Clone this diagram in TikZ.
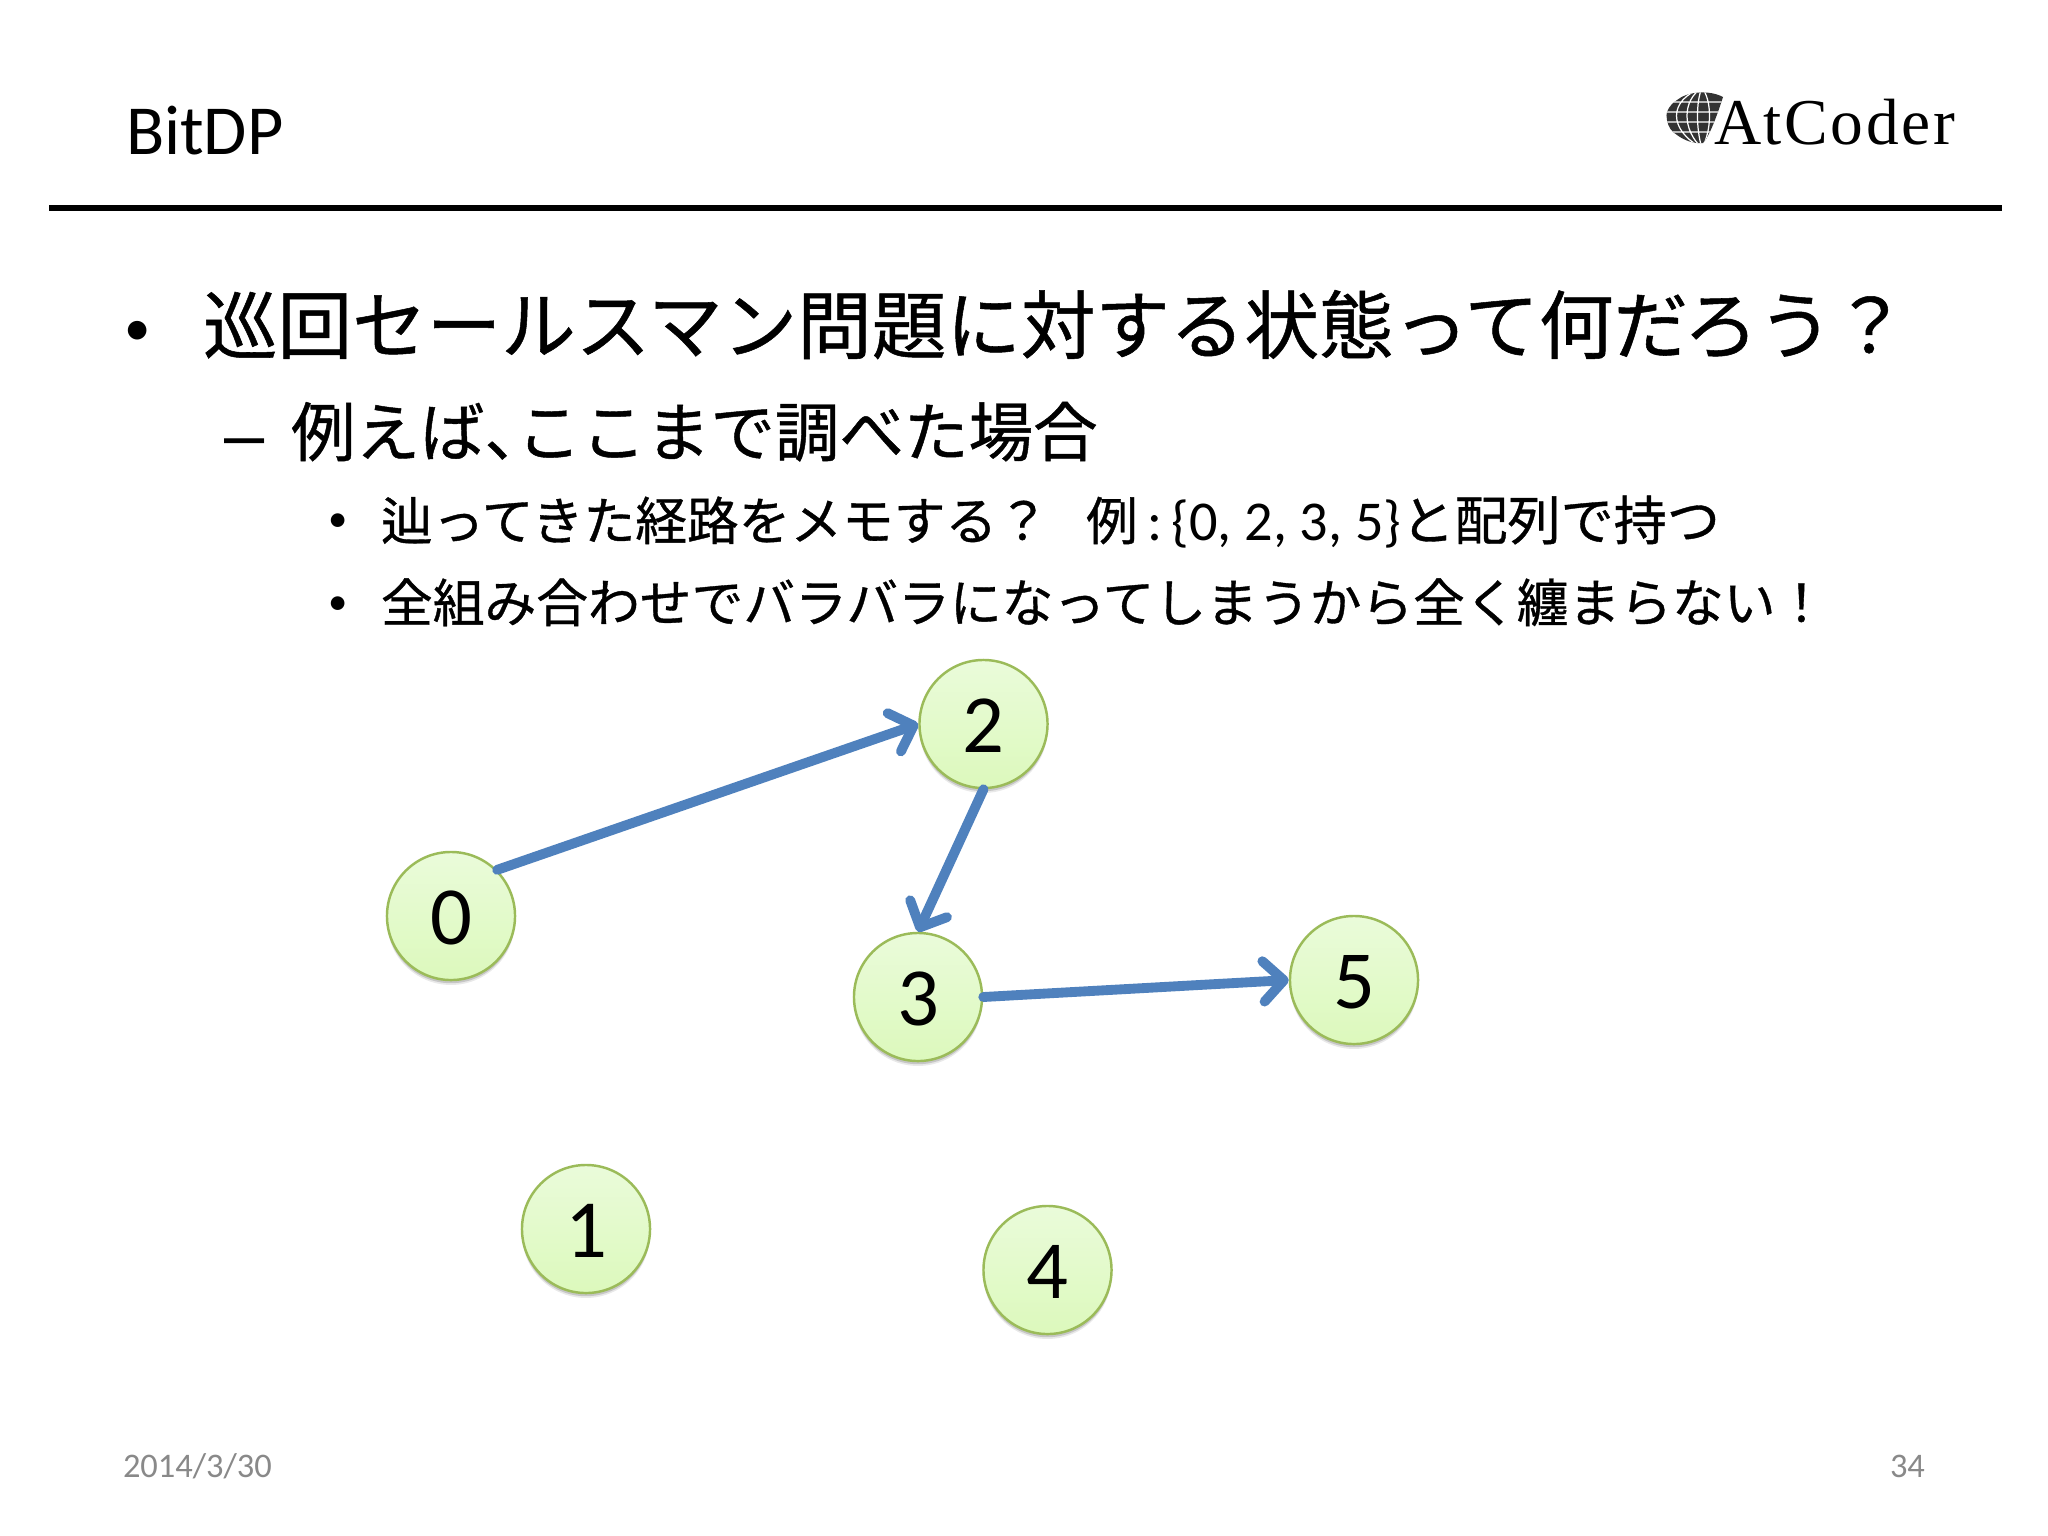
\documentclass[tikz,border=0pt]{standalone}
\usepackage{fontspec}
\setmainfont{Carlito}
\newfontfamily\cjk[FakeBold=0.7]{Noto Sans CJK JP}
\newfontfamily\logofont[LetterSpace=4]{Liberation Serif}
\newfontfamily\dashfont{Liberation Sans}
\usetikzlibrary{arrows.meta,shadows,fadings}
\newcommand{\fs}[1]{\fontsize{#1}{#1}\selectfont}
\newcommand{\dg}[1]{\raisebox{-.5pt}[\height][\depth]{#1}}
\definecolor{nodeline}{HTML}{9BBB59}
\definecolor{nodetop}{HTML}{EAFBDA}
\definecolor{nodebot}{HTML}{DCF9BC}
\definecolor{arrowblue}{HTML}{4F81BD}
\definecolor{footgray}{HTML}{898989}
\tikzset{
  txt/.style={anchor=base west,inner sep=0pt,outer sep=0pt,text=black},
  vertex/.style={circle,draw=nodeline,line width=.7pt,top color=nodetop,bottom color=nodebot,
    minimum size=128*0.2845pt,inner sep=0pt,font=\fs{23.5}\selectfont,
    general shadow={shadow yshift=-1.4pt,fill=black!70,opacity=.12,scale=1.03},
    general shadow={shadow yshift=-.9pt,fill=black!70,opacity=.22}},
  conn/.style={draw=arrowblue,line width=2.8pt,line cap=round,line join=round,
    -{Straight Barb[length=5.8pt,width=11.5pt,round]}},
}
\begin{document}
\begin{tikzpicture}[x=0.01cm,y=-0.01cm]
\useasboundingbox[fill=white] (0,0) rectangle (2048,1536);
% header
\node[txt] (title) at (126,154) {\fs{20}BitDP};
\coordinate (ruleL) at (49,208);
\coordinate (ruleR) at (2002,208);
\draw[line width=1.5pt] (ruleL) -- (ruleR);
% logo
\begin{scope}
\clip (1723,97) .. controls (1710,90) and (1688,91) .. (1677,100)
  .. controls (1668,106) and (1665,114) .. (1667,120)
  .. controls (1668,127) and (1672,132) .. (1677,135)
  .. controls (1685,141) and (1695,144) .. (1703,143)
  .. controls (1708,138) and (1715,122) .. (1723,97) -- cycle;
\fill[black!80] (1660,85) rectangle (1730,150);
\draw[white,line width=.35pt]
  (1702,88) .. controls (1668,100) and (1668,130) .. (1702,148)
  (1702,88) .. controls (1682,100) and (1682,130) .. (1702,148)
  (1702,88) .. controls (1696,100) and (1696,130) .. (1702,148)
  (1702,88) .. controls (1712,100) and (1712,130) .. (1702,148)
  (1660,102) -- (1730,102) (1660,112) -- (1730,112)
  (1660,122) -- (1730,122) (1660,132) -- (1730,132);
\end{scope}
\node[txt] (logo) at (1714,144) {\logofont\fs{18.6}AtCoder};
% bullets
\node[txt] (b1) at (124,345) {\fs{15}•};
\node[txt] (l1) at (203,353) {\cjk\fs{21.2}巡回セールスマン問題に対する状態って何だろう？};
\node[txt] (b2) at (224,459) {\dashfont\fs{20.5}–};
\node[txt] (l2) at (291,456) {\cjk\fs{18.35}例えば、\hspace{-.5em}ここまで調べた場合};
\node[txt] (b3) at (328,531) {\fs{11}•};
\node[txt] (l3) at (381,540) {\cjk\fs{14.7}辿ってきた経路をメモする？\hspace{.72em}例{\normalfont\fs{16}\,:\,\{0, 2, 3, 5\}}\fs{15.1}と配列で持つ};
\node[txt] (b4) at (328,614) {\fs{11}•};
\node[txt] (l4) at (381,622) {\cjk\fs{14.72}全組み合わせでバラバラになってしまうから全く纏まらない！};
% graph
\node[vertex] (n0) at (451,916) {\dg{0}};
\node[vertex] (n2) at (983.5,724) {\dg{2}};
\node[vertex] (n3) at (918,997) {\dg{3}};
\node[vertex] (n5) at (1354,980) {\dg{5}};
\node[vertex] (n1) at (586,1229) {\dg{1}};
\node[vertex] (n4) at (1047.5,1270) {\dg{4}};
\draw[conn] (n0.45) -- (n2.west);
\draw[conn] (n2.south) -- (n3.north);
\draw[conn] (n3.east) -- (n5.west);
% footer
\node[txt,text=footgray] (date) at (123,1477) {\fs{9.8}2014/3/30};
\node[txt,text=footgray] (page) at (1890,1477) {\fs{9.8}34};
\end{tikzpicture}
\end{document}
